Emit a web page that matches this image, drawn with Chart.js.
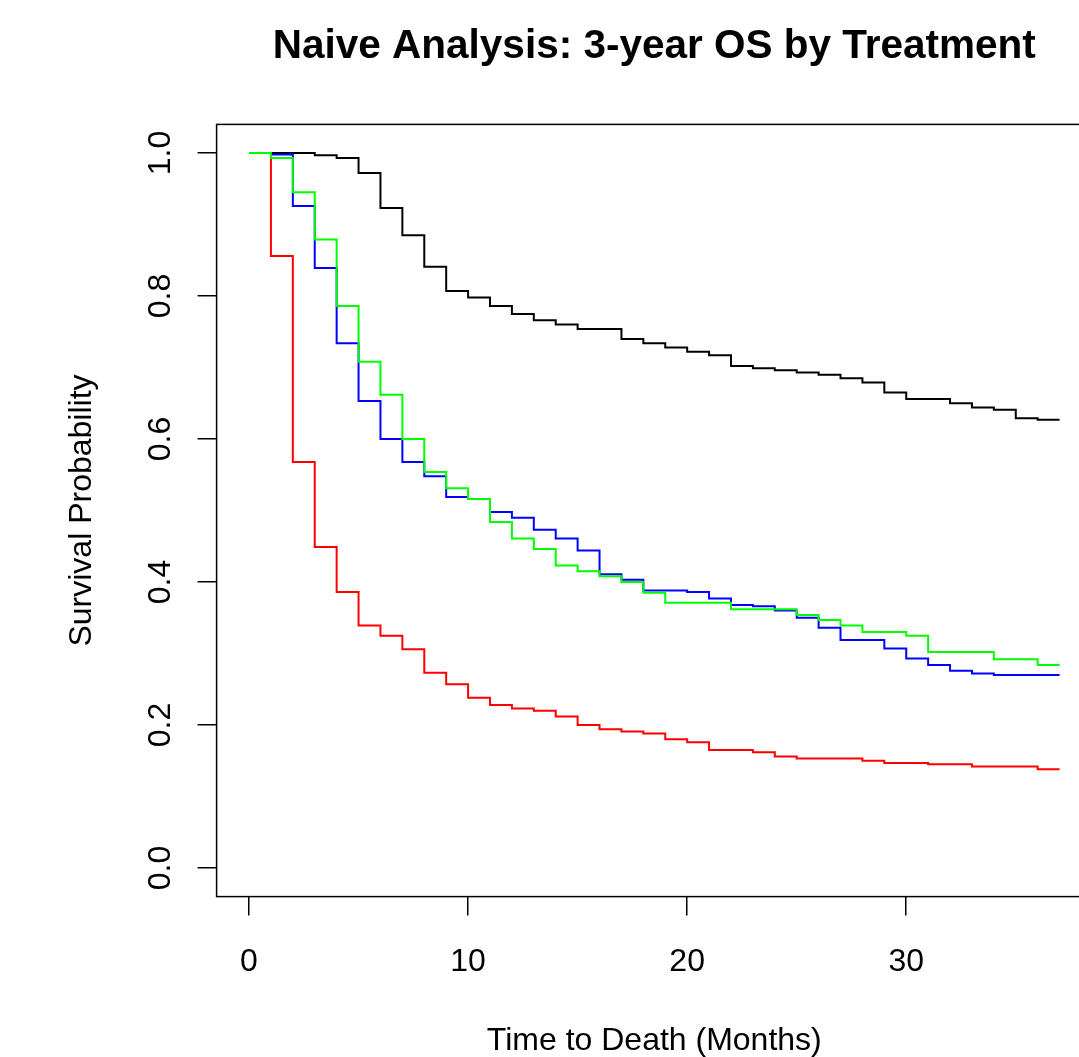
<!DOCTYPE html>
<html>
<head>
<meta charset="utf-8">
<script src="https://cdn.jsdelivr.net/npm/chart.js@4.4.1/dist/chart.umd.min.js"></script>
<style>
  html, body { margin: 0; padding: 0; background: #fff; overflow: hidden; }
  #wrap { position: relative; width: 1092px; height: 1057px; }
</style>
</head>
<body>
<div id="wrap"><canvas id="c"></canvas></div>
<script>
// ---- data ----
const months = [0,1,2,3,4,5,6,7,8,9,10,11,12,13,14,15,16,17,18,19,20,21,22,23,24,25,26,27,28,29,30,31,32,33,34,35,36,37];
const blackSeries = [1.0,1.0,1.0,0.997,0.993,0.972,0.923,0.885,0.841,0.807,0.798,0.786,0.775,0.766,0.760,0.754,0.754,0.740,0.734,0.728,0.722,0.717,0.702,0.699,0.696,0.693,0.690,0.685,0.679,0.665,0.656,0.656,0.650,0.644,0.641,0.629,0.627,0.627];
const redSeries = [1.0,0.856,0.568,0.449,0.386,0.339,0.325,0.306,0.273,0.257,0.238,0.228,0.223,0.220,0.212,0.200,0.194,0.191,0.188,0.180,0.176,0.165,0.165,0.162,0.156,0.153,0.153,0.153,0.150,0.147,0.147,0.145,0.145,0.142,0.142,0.142,0.138,0.138];
const blueSeries = [1.0,0.998,0.926,0.839,0.734,0.653,0.600,0.568,0.548,0.519,0.516,0.498,0.490,0.473,0.461,0.444,0.411,0.403,0.388,0.388,0.386,0.377,0.368,0.366,0.360,0.350,0.336,0.319,0.319,0.307,0.293,0.284,0.276,0.272,0.270,0.270,0.270,0.270];
const greenSeries = [1.0,0.993,0.945,0.879,0.786,0.708,0.662,0.600,0.554,0.531,0.516,0.484,0.461,0.446,0.423,0.415,0.408,0.400,0.385,0.371,0.371,0.371,0.362,0.362,0.362,0.354,0.347,0.339,0.330,0.330,0.325,0.302,0.302,0.302,0.292,0.292,0.284,0.284];
const xTicks = [0, 10, 20, 30];
const yTicks = [0, 0.2, 0.4, 0.6, 0.8, 1.0];
const titleText = 'Naive Analysis: 3-year OS by Treatment';
const xTitle = 'Time to Death (Months)';
const yTitle = 'Survival Probability';

const FONT = "'Liberation Sans', Arial, Helvetica, sans-serif";
const pts = arr => arr.map((v, i) => ({ x: months[i], y: v }));

const boxPlugin = {
  id: 'box',
  afterDatasetsDraw(chart) {
    const a = chart.chartArea, ctx = chart.ctx;
    ctx.save();
    ctx.strokeStyle = '#000';
    ctx.lineWidth = 1.5;
    ctx.strokeRect(a.left, a.top, a.right - a.left, a.bottom - a.top);
    ctx.restore();
  }
};

const mkSet = (label, arr, color, order) => ({
  label, data: pts(arr), borderColor: color, backgroundColor: color,
  borderWidth: 2, stepped: true, pointRadius: 0, fill: false, order
});

new Chart(document.getElementById('c'), {
  type: 'line',
  data: {
    datasets: [
      mkSet('Black', blackSeries, '#000000', 4),
      mkSet('Red', redSeries, '#ff0000', 3),
      mkSet('Blue', blueSeries, '#0000ff', 2),
      mkSet('Green', greenSeries, '#00ff00', 1)
    ]
  },
  options: {
    responsive: true,
    maintainAspectRatio: false,
    animation: false,
    devicePixelRatio: 1,
    layout: { padding: 0 },
    plugins: {
      legend: { display: false },
      tooltip: { enabled: false },
      title: {
        display: true, text: titleText, fullSize: false, color: '#000',
        font: { family: FONT, size: 40.5, weight: 'bold', lineHeight: 1 },
        padding: { top: 27, bottom: 56.9 }
      }
    },
    scales: {
      x: {
        type: 'linear', min: -1.48, max: 38.48,
        afterBuildTicks: s => { s.ticks = xTicks.map(v => ({ value: v })); },
        afterFit: s => { s.height = 160.4; },
        border: { display: false },
        grid: { drawOnChartArea: false, drawTicks: true, tickLength: 19, tickColor: '#000', lineWidth: 1.5 },
        ticks: { color: '#000', font: { family: FONT, size: 32 }, padding: 27, maxRotation: 0, minRotation: 0, callback: v => String(v) },
        title: { display: true, text: xTitle, color: '#000', font: { family: FONT, size: 32, lineHeight: 1 }, padding: { top: 0, bottom: 0 } }
      },
      y: {
        type: 'linear', min: -0.04, max: 1.04,
        afterBuildTicks: s => { s.ticks = yTicks.map(v => ({ value: v })); },
        afterFit: s => { s.width = 216.6; },
        border: { display: false },
        grid: { drawOnChartArea: false, drawTicks: true, tickLength: 19, tickColor: '#000', lineWidth: 1.5 },
        ticks: { color: '#000', font: { family: FONT, size: 32 }, padding: 14, minRotation: 90, maxRotation: 90, crossAlign: 'center', callback: v => Number(v).toFixed(1) },
        title: { display: true, text: yTitle, color: '#000', font: { family: FONT, size: 32, lineHeight: 1 }, padding: { top: 66, bottom: 0 } }
      }
    }
  },
  plugins: [boxPlugin]
});
</script>
</body>
</html>
